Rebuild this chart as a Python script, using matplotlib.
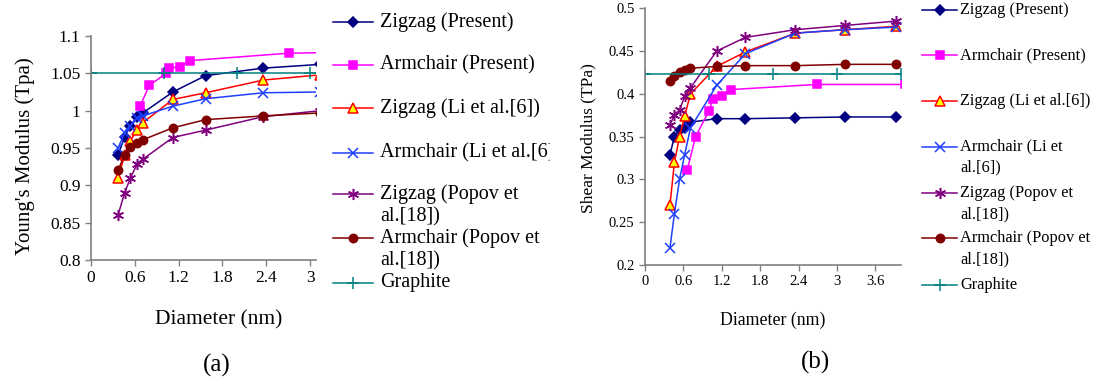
import numpy as np
import matplotlib
matplotlib.use("Agg")
import matplotlib.pyplot as plt
from matplotlib.lines import Line2D
from matplotlib.ticker import FormatStrFormatter
from matplotlib.transforms import Bbox

plt.rcParams['font.family'] = ['Liberation Serif', 'DejaVu Serif']

# ---- data, panel (a): Young's modulus (TPa) ----
d_zz_a = [0.37, 0.46, 0.54, 0.63, 0.71, 1.12, 1.57, 2.36, 3.14]
zz_present_a = [0.94, 0.965, 0.98, 0.991, 0.997, 1.025, 1.047, 1.057, 1.062]
zz_li_a = [0.91, 0.94, 0.96, 0.974, 0.984, 1.015, 1.024, 1.041, 1.048]
ac_li_a = [0.95, 0.97, 0.98, 0.99, 0.993, 1.006, 1.016, 1.024, 1.025]
zz_popov_a = [0.86, 0.89, 0.91, 0.928, 0.935, 0.964, 0.974, 0.992, 1.0]
ac_popov_a = [0.92, 0.941, 0.952, 0.957, 0.961, 0.977, 0.988, 0.993, 0.997]
d_ac_a = [0.67, 0.80, 1.03, 1.07, 1.22, 1.35, 2.71, 4.07]
ac_present_a = [1.006, 1.034, 1.050, 1.057, 1.059, 1.067, 1.077, 1.079]
d_graphite = [0, 1, 2, 3, 4]
graphite_a = [1.05, 1.05, 1.05, 1.05, 1.05]

# ---- data, panel (b): shear modulus (TPa) ----
d_zz_b = [0.39, 0.46, 0.54, 0.62, 0.71, 1.12, 1.57, 2.35, 3.13, 3.92]
zz_present_b = [0.329, 0.35, 0.358, 0.36, 0.367, 0.371, 0.371, 0.372, 0.373, 0.373]
zz_li_b = [0.27, 0.32, 0.35, 0.374, 0.40, 0.432, 0.449, 0.471, 0.475, 0.479]
ac_li_b = [0.22, 0.26, 0.30, 0.329, 0.36, 0.41, 0.447, 0.471, 0.475, 0.478]
zz_popov_b = [0.364, 0.375, 0.381, 0.397, 0.407, 0.45, 0.466, 0.475, 0.48, 0.485]
ac_popov_b = [0.415, 0.421, 0.426, 0.428, 0.43, 0.432, 0.433, 0.433, 0.4345, 0.4345]
d_ac_b = [0.66, 0.79, 1.0, 1.06, 1.2, 1.34, 2.68, 4.07]
ac_present_b = [0.311, 0.35, 0.38, 0.394, 0.397, 0.405, 0.411, 0.411]
graphite_b = [0.423, 0.423, 0.423, 0.423, 0.423]

labels_a = ['Zigzag (Present)', 'Armchair (Present)', 'Zigzag (Li et al.[6])',
            'Armchair (Li et al.[6])', 'Zigzag (Popov et\nal.[18])',
            'Armchair (Popov et\nal.[18])', 'Graphite']
labels_b = ['Zigzag (Present)', 'Armchair (Present)', 'Zigzag (Li et al.[6])',
            'Armchair (Li et\nal.[6])', 'Zigzag (Popov et\nal.[18])',
            'Armchair (Popov et\nal.[18])', 'Graphite']

# styles: colour, marker, size, face colour
styles = [
    dict(color='#000080', marker='D', ms=5, mfc='#000080'),
    dict(color='#FF00FF', marker='s', ms=5.5, mfc='#FF00FF'),
    dict(color='#FF0000', marker='^', ms=6.5, mfc='#FFFF00'),
    dict(color='#1f3fff', marker='x', ms=6.5, mfc='none'),
    dict(color='#800080', marker=(6, 2, 0), ms=8, mfc='none'),
    dict(color='#800000', marker='o', ms=6, mfc='#800000'),
    dict(color='#008080', marker='+', ms=8, mfc='none'),
]

W, H = 1096, 383
fig = plt.figure(figsize=(W / 100, H / 100), dpi=100)


def fx(x):
    return x / W


def fy(y):
    return 1 - y / H


ax1 = fig.add_axes([fx(91), fy(260), fx(316) - fx(91), fy(36) - fy(260)])
ax2 = fig.add_axes([fx(645), fy(265), fx(901) - fx(645), fy(8.3) - fy(265)])

series_a = [(d_zz_a, zz_present_a), (d_ac_a, ac_present_a), (d_zz_a, zz_li_a),
            (d_zz_a, ac_li_a), (d_zz_a, zz_popov_a), (d_zz_a, ac_popov_a),
            (d_graphite, graphite_a)]
series_b = [(d_zz_b, zz_present_b), (d_ac_b, ac_present_b), (d_zz_b, zz_li_b),
            (d_zz_b, ac_li_b), (d_zz_b, zz_popov_b), (d_zz_b, ac_popov_b),
            (d_graphite, graphite_b)]

for ax, series in [(ax1, series_a), (ax2, series_b)]:
    for (x, y), st in zip(series, styles):
        ax.plot(x, y, color=st['color'], lw=1.1, marker=st['marker'],
                ms=st['ms'], mfc=st['mfc'], mec=st['color'], mew=1.1)
    for s in ['top', 'right']:
        ax.spines[s].set_visible(False)
    for s in ['left', 'bottom']:
        ax.spines[s].set_color('#808080')
        ax.spines[s].set_linewidth(1.2)
    ax.tick_params(direction='out', length=4, width=1, color='#808080')
    ax.xaxis.set_major_formatter(FormatStrFormatter('%g'))
    ax.yaxis.set_major_formatter(FormatStrFormatter('%g'))

ax1.set_xlim(0, 3.08)
ax1.set_ylim(0.8, 1.1)
ax1.set_xticks(np.arange(0, 3.01, 0.6))
ax1.set_yticks(np.arange(0.8, 1.101, 0.05))
ax1.tick_params(labelsize=12.5)
ax1.set_xlabel('Diameter (nm)', fontsize=15.5, va='center')
ax1.xaxis.set_label_coords(0.569, -0.268)
ax1.set_ylabel("Young's Modulus (Tpa)", fontsize=15, va='center')
ax1.yaxis.set_label_coords(-0.293, 0.464)

ax2.set_xlim(0, 4.0)
ax2.set_ylim(0.2, 0.5)
ax2.set_xticks(np.arange(0, 3.61, 0.6))
ax2.set_yticks(np.arange(0.2, 0.501, 0.05))
ax2.tick_params(labelsize=10.5)
ax2.set_xlabel('Diameter (nm)', fontsize=12.8, va='center')
ax2.xaxis.set_label_coords(0.498, -0.214)
ax2.set_ylabel('Shear Modulus (TPa)', fontsize=12.5, va='center')
ax2.yaxis.set_label_coords(-0.223, 0.494)

fig.text(fx(217), fy(365), '(a)', fontsize=18, ha='center', va='center')
fig.text(fx(816), fy(362), '(b)', fontsize=18, ha='center', va='center')


# hand-built legends (Excel style: marker beside first line of text)
def legend(labels, x0, x1, xt, ys, fs, gap, clip=None):
    for lab, st, y in zip(labels, styles, ys):
        fig.add_artist(Line2D([fx(x0), fx(x1)], [fy(y), fy(y)],
                              color=st['color'], lw=1.1))
        fig.add_artist(Line2D([fx((x0 + x1) / 2)], [fy(y)], color=st['color'],
                              marker=st['marker'], ms=st['ms'], mfc=st['mfc'],
                              mec=st['color'], mew=1.1))
        for i, line in enumerate(lab.split('\n')):
            t = fig.text(fx(xt), fy(y + i * gap), line, fontsize=fs,
                         ha='left', va='center')
            if clip is not None:
                t.set_clip_box(clip)
                t.set_clip_on(True)


legend(labels_a, 333, 373, 380, [21.7, 65, 108.3, 152.7, 194.3, 238.3, 282.7],
       14.5, 22.8, clip=Bbox([[0, 0], [550, H]]))
legend(labels_b, 922, 957, 960, [10, 55, 101, 146.7, 193.3, 238.3, 285],
       11.8, 21)

fig.savefig('out.png', dpi=100)
